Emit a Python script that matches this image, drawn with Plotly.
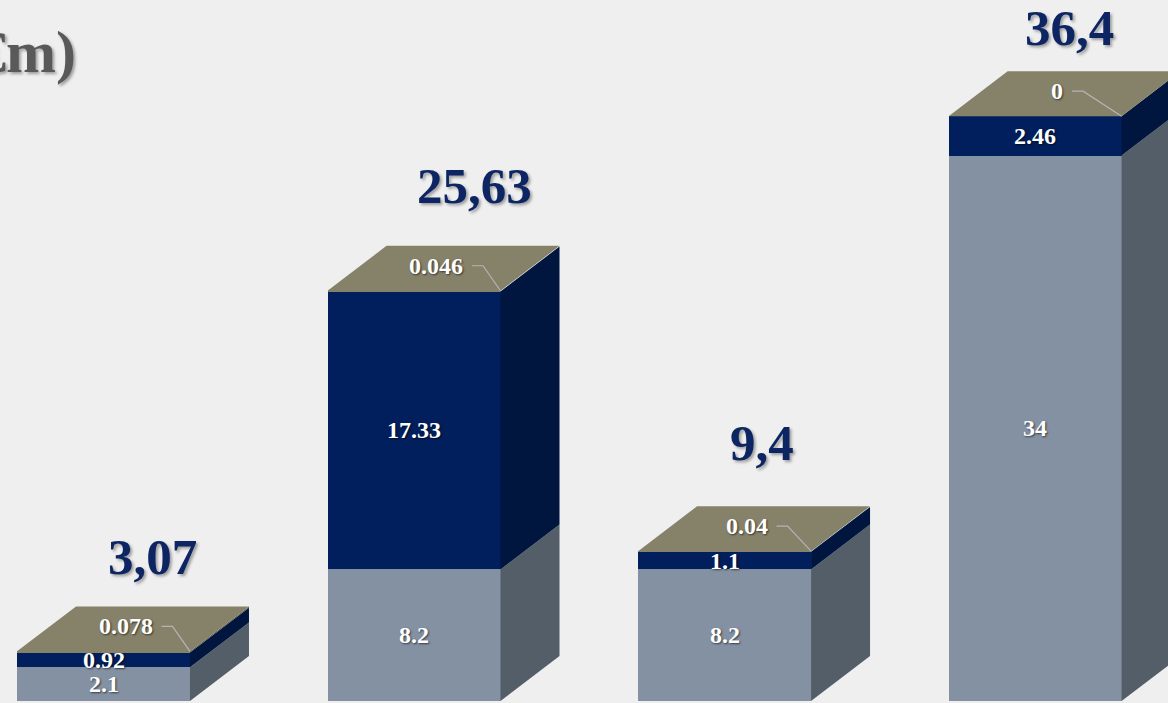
import plotly.graph_objects as go

# ---- data -------------------------------------------------------------
positions = [0, 1, 2, 3]
base_vals = [2.1, 8.2, 8.2, 34]
mid_vals = [0.92, 17.33, 1.1, 2.46]
top_vals = [0.078, 0.046, 0.04, 0]
total_labels = ["3,07", "25,63", "9,4", "36,4"]
title_text = "(€m)"

# ---- style ------------------------------------------------------------
BG = "#efefef"
SERIES = [
    # (values, front colour, side colour)
    (base_vals, "#8491a3", "#545e69"),
    (mid_vals, "#001f5c", "#00163e"),
    (top_vals, "#86826a", "#5e5a48"),
]
TOP_FACE = "#86826a"
BAR_W = 0.557          # bar width in category units
DEPTH_X = 0.19         # 3-D depth offset, x (category units)
DEPTH_Y = 2.8          # 3-D depth offset, y (value units)
X_RANGE = [-0.3333, 3.428]
Y_RANGE = [-0.125, 43.7]
W, H = 1168, 703
PX_X = W / (X_RANGE[1] - X_RANGE[0])
PX_Y = H / (Y_RANGE[1] - Y_RANGE[0])
SERIF = "Liberation Serif, Times New Roman, serif"
LABEL_SIZE = 24
SHADOW = "1px 1px 2px rgba(0,0,0,0.6)"

# nudges (px) for the total labels above each bar
total_dx = [19, 31, 8, 5]
total_dy = [72, 82, 86, 66]

fig = go.Figure()

# front faces: regular stacked bars
for vals, front, _ in SERIES:
    fig.add_trace(go.Bar(
        x=positions, y=vals, width=BAR_W,
        marker=dict(color=front, line=dict(width=0)),
        hoverinfo="skip", showlegend=False,
    ))

# side faces of each stacked segment
bottoms = [0.0] * len(positions)
annotations = []
for vals, front, side in SERIES:
    xs, ys = [], []
    for i, p in enumerate(positions):
        y0 = bottoms[i]
        y1 = y0 + vals[i]
        xr = p + BAR_W / 2
        xs += [xr, xr + DEPTH_X, xr + DEPTH_X, xr, xr, None]
        ys += [y0, y0 + DEPTH_Y, y1 + DEPTH_Y, y1, y0, None]
    fig.add_trace(go.Scatter(
        x=xs, y=ys, mode="lines", fill="toself", fillcolor=side,
        line=dict(width=0, color=side), hoverinfo="skip", showlegend=False,
    ))
    if vals is not top_vals:
        for i, p in enumerate(positions):
            annotations.append(dict(
                x=p, y=bottoms[i] + vals[i] / 2, xref="x", yref="y",
                text=f"<b>{vals[i]:g}</b>", showarrow=False,
                font=dict(family=SERIF, size=LABEL_SIZE, color="white",
                          shadow=SHADOW),
            ))
    bottoms = [b + v for b, v in zip(bottoms, vals)]

# top faces
xs, ys = [], []
for i, p in enumerate(positions):
    t = bottoms[i]
    xl, xr = p - BAR_W / 2, p + BAR_W / 2
    xs += [xl, xr, xr + DEPTH_X, xl + DEPTH_X, xl, None]
    ys += [t, t, t + DEPTH_Y, t + DEPTH_Y, t, None]
fig.add_trace(go.Scatter(
    x=xs, y=ys, mode="lines", fill="toself", fillcolor=TOP_FACE,
    line=dict(width=0, color=TOP_FACE), hoverinfo="skip", showlegend=False,
))

# labels for the top series sit on the lid, with a leader line to the corner
lx, ly = [], []
for i, p in enumerate(positions):
    t = bottoms[i]
    txt = f"{top_vals[i]:g}"
    cx = p + 22 / PX_X
    cy = t + 25 / PX_Y
    width_px = sum(0.25 if ch == "." else 0.5 for ch in txt) * LABEL_SIZE
    sx = cx + (width_px / 2 + 9) / PX_X
    mx = sx + 11 / PX_X
    lx += [sx, mx, p + BAR_W / 2, None]
    ly += [cy, cy, t, None]
    annotations.append(dict(
        x=cx, y=cy, xref="x", yref="y", text=f"<b>{txt}</b>", showarrow=False,
        font=dict(family=SERIF, size=LABEL_SIZE, color="white", shadow=SHADOW),
    ))
fig.add_trace(go.Scatter(
    x=lx, y=ly, mode="lines", line=dict(color="#b4b4b4", width=1.2),
    hoverinfo="skip", showlegend=False,
))

# totals above each bar
for i, p in enumerate(positions):
    annotations.append(dict(
        x=p + DEPTH_X / 2, y=bottoms[i] + DEPTH_Y / 2, xref="x", yref="y",
        xshift=total_dx[i], yshift=total_dy[i],
        text=f"<b>{total_labels[i]}</b>", showarrow=False,
        font=dict(family=SERIF, size=51, color="#0d2663",
                  shadow="2px 2px 3px rgba(0,0,0,0.35)"),
    ))

# chart title (runs off the left edge)
annotations.append(dict(
    x=78 / W, y=1 - 52 / H, xref="paper", yref="paper",
    xanchor="right", yanchor="middle", text=f"<b>{title_text}</b>",
    showarrow=False,
    font=dict(family=SERIF, size=60, color="#595959",
              shadow="2px 2px 3px rgba(0,0,0,0.35)"),
))

fig.update_layout(
    width=W, height=H, barmode="stack", bargap=0,
    margin=dict(l=0, r=0, t=0, b=0),
    paper_bgcolor=BG, plot_bgcolor=BG,
    xaxis=dict(range=X_RANGE, visible=False, fixedrange=True),
    yaxis=dict(range=Y_RANGE, visible=False, fixedrange=True),
    annotations=annotations,
    showlegend=False,
)

fig.write_html("out.html")
